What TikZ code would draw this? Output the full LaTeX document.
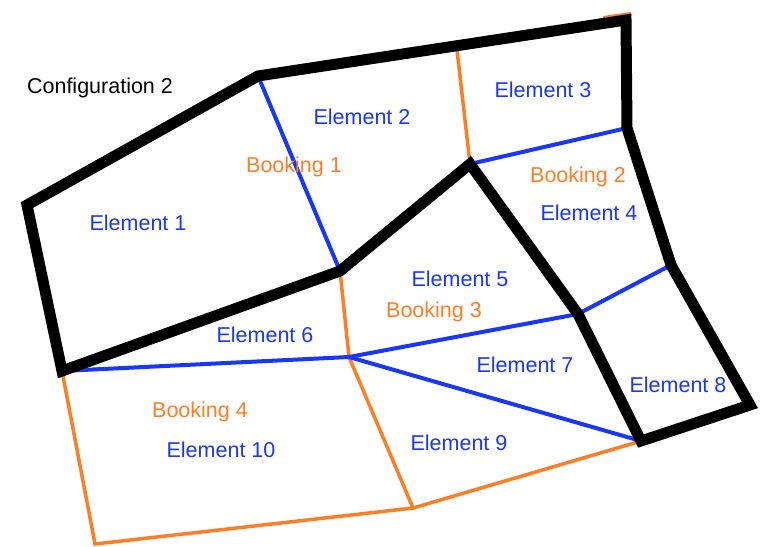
\documentclass[tikz,border=0pt]{standalone}
\usepackage{fontspec}
\setmainfont{Liberation Sans}
\definecolor{elemblue}{RGB}{25,55,250}
\definecolor{bookorange}{RGB}{255,125,35}
\tikzset{
    outline/.style={line width=11pt, black, line join=miter},
    elemline/.style={line width=4pt, elemblue},
    bookline/.style={line width=3.5pt, bookorange},
    lbl/.style={inner sep=0pt, font=\fontsize{21.5}{24}\selectfont},
    elemlabel/.style={lbl, text=elemblue},
    booklabel/.style={lbl, text=bookorange}
}

\begin{document}
\begin{tikzpicture}[x=1pt, y=-1pt]

    \useasboundingbox (0,0) rectangle (760,546);

    % corners of the outline
    \coordinate (a) at (27,205);
    \coordinate (b) at (258,76);
    \coordinate (c) at (626,20);
    \coordinate (d) at (627,128);
    \coordinate (e) at (671,265);
    \coordinate (f) at (750,405);
    \coordinate (g) at (641,441);
    \coordinate (h) at (578,314);
    \coordinate (i) at (470,164);
    \coordinate (j) at (340,271);
    \coordinate (k) at (62,371);

    % inner points
    \coordinate (top23) at (457,50);
    \coordinate (m) at (349,357);
    \coordinate (p) at (413,508);
    \coordinate (q) at (95,544);
    \coordinate (slivera) at (603,17);
    \coordinate (sliverb) at (631,13);

    % booking borders
    \draw[bookline, line width=2pt] (slivera) -- (sliverb);
    \draw[bookline] (top23) -- (i);
    \draw[bookline] (j) -- (m) -- (p) -- (g);
    \draw[bookline] (k) -- (q) -- (p);

    % element borders
    \draw[elemline] (b) -- (j);
    \draw[elemline] (i) -- (d);
    \draw[elemline] (h) -- (e);
    \draw[elemline] (k) -- (m) -- (h);
    \draw[elemline] (m) -- (g);

    % configuration outline
    \draw[outline] (a) -- (b) -- (c) -- (d) -- (e) -- (f) -- (g) -- (h) -- (i) -- (j) -- (k) -- cycle;

    \node[lbl] (config) at (100,88) {Configuration 2};

    \node[elemlabel] (el1) at (138,223) {Element 1};
    \node[elemlabel] (el2) at (362,117) {Element 2};
    \node[elemlabel] (el3) at (543,90) {Element 3};
    \node[elemlabel] (el4) at (589,213) {Element 4};
    \node[elemlabel] (el5) at (460,279) {Element 5};
    \node[elemlabel] (el6) at (265,335) {Element 6};
    \node[elemlabel] (el7) at (525,365) {Element 7};
    \node[elemlabel] (el8) at (678,385) {Element 8};
    \node[elemlabel] (el9) at (459,443) {Element 9};
    \node[elemlabel] (el10) at (221,450) {Element 10};

    \node[booklabel] (bk1) at (294,167) {Booking 1};
    \node[booklabel] (bk2) at (578,177) {Booking 2};
    \node[booklabel] (bk3) at (434,312) {Booking 3};
    \node[booklabel] (bk4) at (200,412) {Booking 4};

\end{tikzpicture}
\end{document}
